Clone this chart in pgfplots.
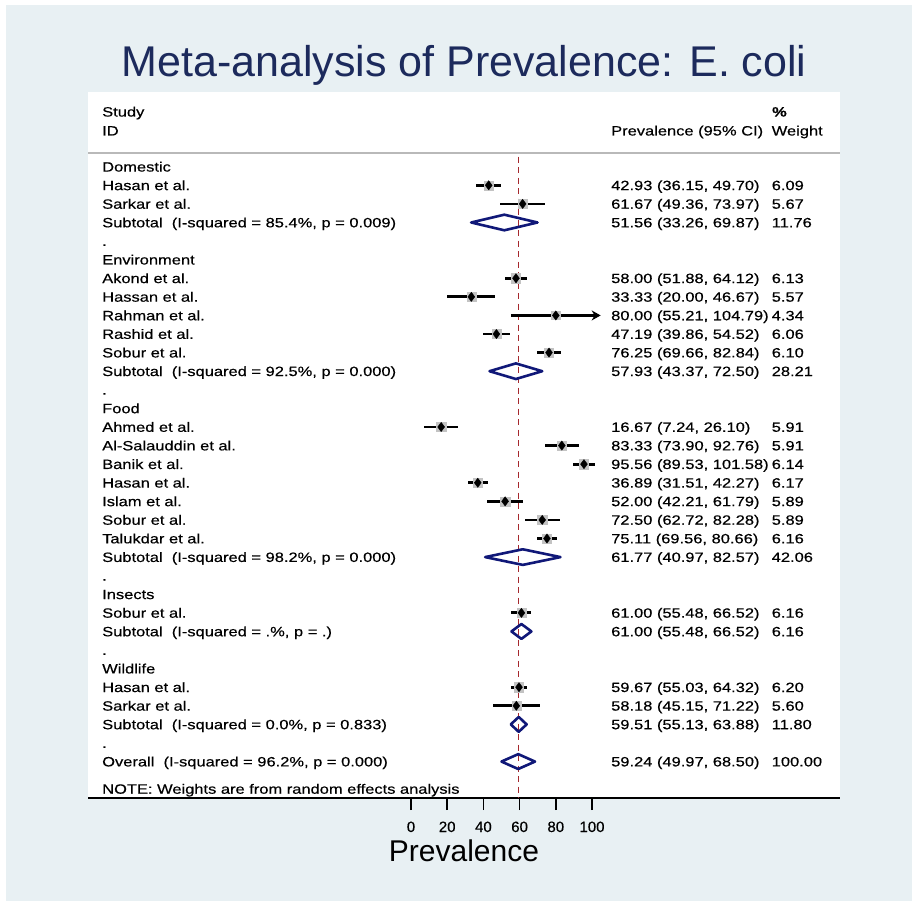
\documentclass[border=0pt]{standalone}
\usepackage{fontspec}
\setmainfont{Liberation Sans}
\newfontfamily\tabfont[FakeStretch=1.22,FakeBold=0.4]{Liberation Sans}
\newfontfamily\tickfont[FakeBold=0.4]{Liberation Sans}
\usepackage{pgfplots}
\pgfplotsset{compat=1.18}
\usepackage{pgfplotstable}
\usetikzlibrary{arrows.meta}
\definecolor{bgc}{RGB}{232,240,243}
\definecolor{ttl}{RGB}{28,42,92}
\definecolor{dmd}{RGB}{16,24,120}
\definecolor{refl}{RGB}{165,40,45}
\definecolor{boxg}{RGB}{195,195,195}

\pgfplotstableread{
row est lo hi
1 42.93 36.15 49.70
2 61.67 49.36 73.97
6 58.00 51.88 64.12
7 33.33 20.00 46.67
9 47.19 39.86 54.52
10 76.25 69.66 82.84
14 16.67 7.24 26.10
15 83.33 73.90 92.76
16 95.56 89.53 101.58
17 36.89 31.51 42.27
18 52.00 42.21 61.79
19 72.50 62.72 82.28
20 75.11 69.56 80.66
24 61.00 55.48 66.52
28 59.67 55.03 64.32
29 58.18 45.15 71.22
}\studies

\newcommand{\Lt}[2]{\node[lt] at (axis cs:-170.7,#1) {#2};}
\newcommand{\Rt}[3]{\node[lt] at (axis cs:110.5,#1) {#2}; \node[lt] at (axis cs:199.2,#1) {#3};}

\begin{document}
\begin{tikzpicture}[
  lt/.style={anchor=base west, inner sep=0pt, yshift=-4.83pt, font=\tabfont\fontsize{13.5}{16}\selectfont}]
\fill[white] (0,0) rectangle (912pt,901pt);
\fill[bgc] (6pt,0pt) rectangle (912pt,896pt);
\begin{axis}[
  at={(88pt,103pt)}, anchor=south west,
  width=752pt, height=706pt, scale only axis,
  xmin=-178.45, xmax=237.02,
  ymin=-4.02, ymax=33.96, y dir=reverse,
  axis background/.style={fill=white},
  axis x line*=bottom, axis y line=none,
  x axis line style={-, black, line width=2pt},
  xtick={0,20,40,60,80,100}, ytick=\empty,
  xtick align=outside, major tick length=12pt,
  tick style={black, line width=1.5pt},
  xticklabel style={font=\tickfont\fontsize{15}{18}\selectfont, anchor=base, inner sep=0pt, yshift=-22pt},
  /pgf/number format/assume math mode=true,
  clip=false,
]
% header separator
\draw[gray!55, line width=1.8pt] (axis cs:-178.45,-0.72) -- (axis cs:237.02,-0.72);
% reference line
\addplot[refl, line width=1.4pt, dash pattern=on 6pt off 4.5pt] coordinates {(59.24,-0.54) (59.24,33.96)};
% weight boxes
\addplot[only marks, mark=square*, mark size=4.6pt, boxg] table[x=est,y=row]{\studies};
\addplot[only marks, mark=square*, mark size=4.2pt, boxg] coordinates {(80.00,8)};
% CIs
\addplot[only marks, mark=none, error bars/.cd, x dir=both, x explicit, error mark=none,
  error bar style={line width=2.8pt, black}]
  table[x=est, y=row, x error plus expr=\thisrow{hi}-\thisrow{est}, x error minus expr=\thisrow{est}-\thisrow{lo}]{\studies};
\addplot[black, line width=2.8pt, -{Stealth[length=9pt,width=10pt]}] coordinates {(55.21,8) (104.79,8)};
% point estimates
\addplot[only marks, mark=diamond*, mark size=4.6pt, black] table[x=est,y=row]{\studies};
\addplot[only marks, mark=diamond*, mark size=4.6pt, black] coordinates {(80.00,8)};
% pooled diamonds
\pgfplotsset{pooled/.style={dmd, line width=2.6pt, line join=round, line cap=round}}
\addplot[pooled] coordinates {(33.26,3) (51.56,2.58) (69.87,3) (51.56,3.42) (33.26,3)};
\addplot[pooled] coordinates {(43.37,11) (57.93,10.58) (72.50,11) (57.93,11.42) (43.37,11)};
\addplot[pooled] coordinates {(40.97,21) (61.77,20.58) (82.57,21) (61.77,21.42) (40.97,21)};
\addplot[pooled] coordinates {(55.48,25) (61.00,24.6) (66.52,25) (61.00,25.4) (55.48,25)};
\addplot[pooled] coordinates {(55.13,30) (59.51,29.6) (63.88,30) (59.51,30.4) (55.13,30)};
\addplot[pooled] coordinates {(49.97,32) (59.24,31.6) (68.50,32) (59.24,32.4) (49.97,32)};
% left column
\Lt{-2.96}{Study}
\Lt{-1.94}{ID}
\Lt{0}{Domestic}
\Lt{1}{Hasan et al.}
\Lt{2}{Sarkar et al.}
\Lt{3}{Subtotal\ \ (I-squared = 85.4\%, p = 0.009)}
\Lt{4}{.}
\Lt{5}{Environment}
\Lt{6}{Akond et al.}
\Lt{7}{Hassan et al.}
\Lt{8}{Rahman et al.}
\Lt{9}{Rashid et al.}
\Lt{10}{Sobur et al.}
\Lt{11}{Subtotal\ \ (I-squared = 92.5\%, p = 0.000)}
\Lt{12}{.}
\Lt{13}{Food}
\Lt{14}{Ahmed et al.}
\Lt{15}{Al-Salauddin et al.}
\Lt{16}{Banik et al.}
\Lt{17}{Hasan et al.}
\Lt{18}{Islam et al.}
\Lt{19}{Sobur et al.}
\Lt{20}{Talukdar et al.}
\Lt{21}{Subtotal\ \ (I-squared = 98.2\%, p = 0.000)}
\Lt{22}{.}
\Lt{23}{Insects}
\Lt{24}{Sobur et al.}
\Lt{25}{Subtotal\ \ (I-squared = .\%, p = .)}
\Lt{26}{.}
\Lt{27}{Wildlife}
\Lt{28}{Hasan et al.}
\Lt{29}{Sarkar et al.}
\Lt{30}{Subtotal\ \ (I-squared = 0.0\%, p = 0.833)}
\Lt{31}{.}
\Lt{32}{Overall\ \ (I-squared = 96.2\%, p = 0.000)}
\Lt{33.47}{NOTE: Weights are from random effects analysis}
% right columns
\node[lt] at (axis cs:199.4,-2.96) {\textbf{\%}};
\Rt{-1.94}{Prevalence (95\% CI)}{Weight}
\Rt{1}{42.93 (36.15, 49.70)}{6.09}
\Rt{2}{61.67 (49.36, 73.97)}{5.67}
\Rt{3}{51.56 (33.26, 69.87)}{11.76}
\Rt{6}{58.00 (51.88, 64.12)}{6.13}
\Rt{7}{33.33 (20.00, 46.67)}{5.57}
\Rt{8}{80.00 (55.21, 104.79)}{4.34}
\Rt{9}{47.19 (39.86, 54.52)}{6.06}
\Rt{10}{76.25 (69.66, 82.84)}{6.10}
\Rt{11}{57.93 (43.37, 72.50)}{28.21}
\Rt{14}{16.67 (7.24, 26.10)}{5.91}
\Rt{15}{83.33 (73.90, 92.76)}{5.91}
\Rt{16}{95.56 (89.53, 101.58)}{6.14}
\Rt{17}{36.89 (31.51, 42.27)}{6.17}
\Rt{18}{52.00 (42.21, 61.79)}{5.89}
\Rt{19}{72.50 (62.72, 82.28)}{5.89}
\Rt{20}{75.11 (69.56, 80.66)}{6.16}
\Rt{21}{61.77 (40.97, 82.57)}{42.06}
\Rt{24}{61.00 (55.48, 66.52)}{6.16}
\Rt{25}{61.00 (55.48, 66.52)}{6.16}
\Rt{28}{59.67 (55.03, 64.32)}{6.20}
\Rt{29}{58.18 (45.15, 71.22)}{5.60}
\Rt{30}{59.51 (55.13, 63.88)}{11.80}
\Rt{32}{59.24 (49.97, 68.50)}{100.00}
\end{axis}
\node[anchor=base, inner sep=0pt, text=ttl, font=\fontsize{43}{50}\selectfont] at (464pt,824pt) {Meta-analysis of Prevalence: E. coli};
\node[anchor=base, inner sep=0pt, font=\fontsize{30}{36}\selectfont] at (464pt,39pt) {Prevalence};
\end{tikzpicture}
\end{document}
